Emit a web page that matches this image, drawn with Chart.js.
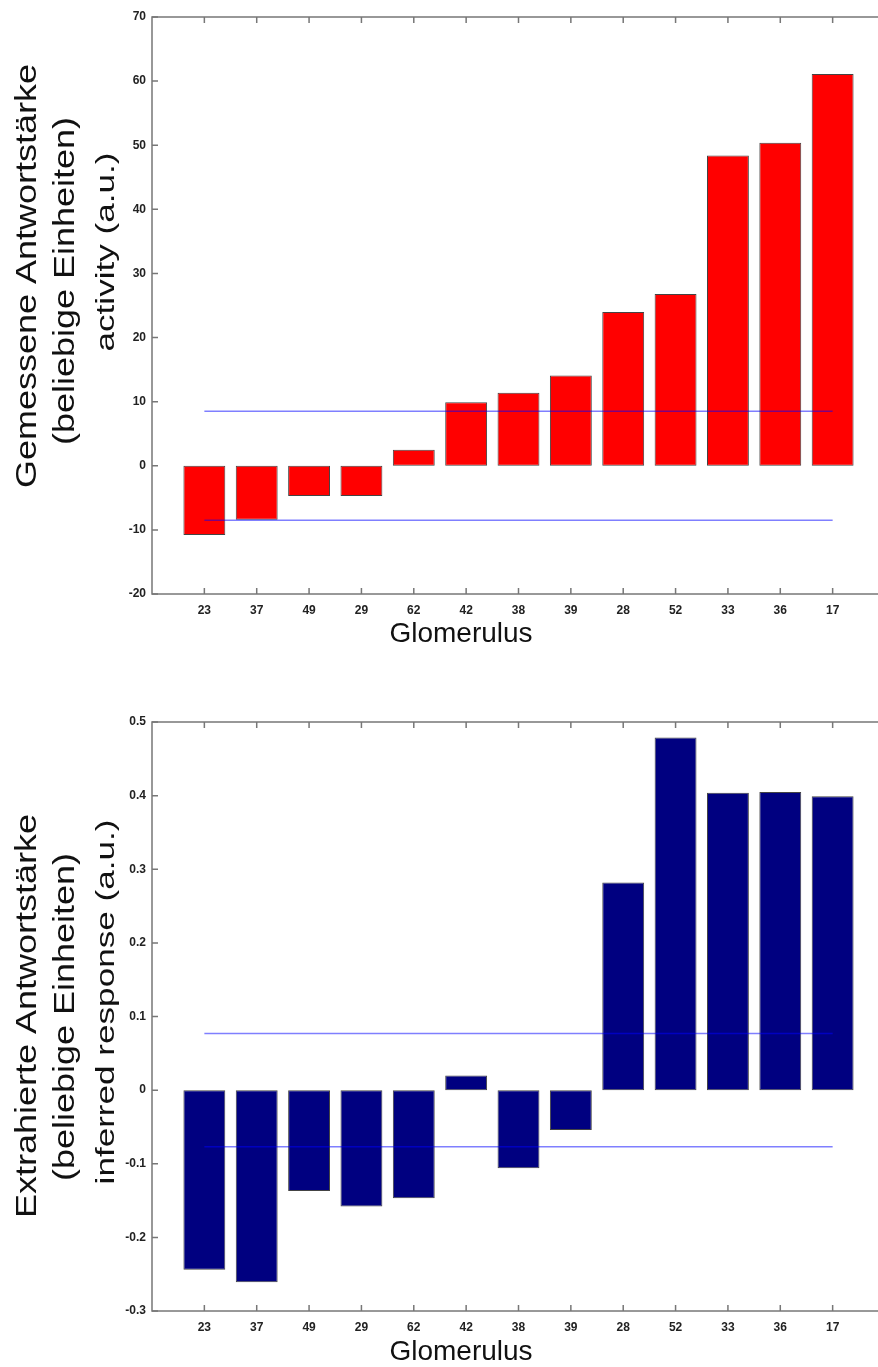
<!DOCTYPE html>
<html>
<head>
<meta charset="utf-8">
<script src="https://cdn.jsdelivr.net/npm/chart.js@4.4.1/dist/chart.umd.min.js"></script>
<style>
  html, body { margin: 0; padding: 0; overflow: hidden; background: #fff; }
  .wrap { position: absolute; left: 0; width: 885px; }
  #topWrap { top: 0; height: 660px; }
  #bottomWrap { top: 660px; height: 707px; }
</style>
</head>
<body>
<div class="wrap" id="topWrap"><canvas id="activityChart"></canvas></div>
<div class="wrap" id="bottomWrap"><canvas id="inferredChart"></canvas></div>
<script>
// glomeruli, sorted by measured activity
const glomeruli = ['23', '37', '49', '29', '62', '42', '38', '39', '28', '52', '33', '36', '17'];

// measured activity (a.u.)
const activity = [-10.8, -8.4, -4.7, -4.7, 2.5, 9.9, 11.4, 14.1, 24.0, 26.8, 48.4, 50.4, 61.1];
const activityBand = [8.5, -8.5];
const activityTicks = [-20, -10, 0, 10, 20, 30, 40, 50, 60, 70];

// inferred response (a.u.)
const inferred = [-0.244, -0.261, -0.137, -0.158, -0.147, 0.020, -0.106, -0.054, 0.282, 0.479, 0.404, 0.405, 0.399];
const inferredBand = [0.077, -0.077];
const inferredTicks = [-0.3, -0.2, -0.1, 0, 0.1, 0.2, 0.3, 0.4, 0.5];

const tickFont = { family: 'Liberation Sans', size: 12, weight: 'bold' };

// box around the plot with inward ticks on all four sides
const framePlugin = {
    id: 'frame',
    afterDraw(chart) {
        const ctx = chart.ctx;
        const a = chart.chartArea;
        const x = chart.scales.x, y = chart.scales.y;
        const len = 6;
        ctx.save();
        ctx.strokeStyle = '#777';
        ctx.lineWidth = 1.5;
        ctx.strokeRect(a.left, a.top, a.right - a.left, a.bottom - a.top);
        ctx.beginPath();
        y.ticks.forEach(t => {
            const py = y.getPixelForValue(t.value);
            ctx.moveTo(a.left, py); ctx.lineTo(a.left + len, py);
            ctx.moveTo(a.right, py); ctx.lineTo(a.right - len, py);
        });
        x.ticks.forEach(t => {
            const px = x.getPixelForValue(t.value);
            ctx.moveTo(px, a.bottom); ctx.lineTo(px, a.bottom - len);
            ctx.moveTo(px, a.top); ctx.lineTo(px, a.top + len);
        });
        ctx.stroke();
        ctx.restore();
    }
};

// rotated y titles and the x title
const titlesPlugin = {
    id: 'titles',
    afterDraw(chart, args, opts) {
        const ctx = chart.ctx;
        ctx.save();
        ctx.fillStyle = '#111';
        ctx.textAlign = 'center';
        ctx.textBaseline = 'middle';
        opts.rotated.forEach(r => {
            ctx.save();
            ctx.translate(r.x, r.y);
            ctx.rotate(-Math.PI / 2);
            ctx.scale(r.stretch, 1);
            ctx.font = r.size + 'px "Liberation Sans"';
            ctx.fillText(r.text, 0, 0);
            ctx.restore();
        });
        ctx.font = '28px "Liberation Sans"';
        ctx.fillText('Glomerulus', opts.xTitle.x, opts.xTitle.y);
        ctx.restore();
    }
};

function makeChart(id, values, band, ticks, color, layout, titles) {
    const bars = values.map((v, i) => ({ x: i + 1, y: v }));
    const bandLine = level => ({
        type: 'line',
        data: [{ x: 1, y: level }, { x: glomeruli.length, y: level }],
        borderColor: 'rgba(0, 0, 255, 0.5)',
        borderWidth: 1.6,
        pointRadius: 0,
        order: 0
    });

    return new Chart(document.getElementById(id), {
        type: 'bar',
        data: {
            datasets: [
                {
                    data: bars,
                    backgroundColor: color,
                    borderColor: '#444',
                    borderWidth: 1,
                    borderSkipped: false,
                    categoryPercentage: 1,
                    barPercentage: 0.8,
                    order: 1
                },
                bandLine(band[0]),
                bandLine(band[1])
            ]
        },
        options: {
            responsive: true,
            maintainAspectRatio: false,
            animation: false,
            layout: { padding: { top: layout.top, left: 0, right: 0, bottom: 0 } },
            plugins: {
                legend: { display: false },
                tooltip: { enabled: false },
                titles: titles
            },
            scales: {
                x: {
                    type: 'linear',
                    min: 0,
                    max: glomeruli.length + 1,
                    offset: false,
                    grid: { display: false, drawTicks: false, offset: false },
                    border: { display: false },
                    afterBuildTicks: s => { s.ticks = glomeruli.map((g, i) => ({ value: i + 1 })); },
                    afterFit: s => { s.height = layout.xHeight; },
                    ticks: {
                        autoSkip: false,
                        maxRotation: 0,
                        padding: 9,
                        color: '#222',
                        font: tickFont,
                        callback: v => glomeruli[v - 1]
                    }
                },
                y: {
                    min: ticks[0],
                    max: ticks[ticks.length - 1],
                    grid: { display: false, drawTicks: false },
                    border: { display: false },
                    afterBuildTicks: s => { s.ticks = ticks.map(v => ({ value: v })); },
                    afterFit: s => { s.width = 152; },
                    ticks: {
                        padding: 6,
                        color: '#222',
                        font: tickFont,
                        callback: v => String(v)
                    }
                }
            }
        },
        plugins: [framePlugin, titlesPlugin]
    });
}

makeChart('activityChart', activity, activityBand, activityTicks, '#ff0000',
    { top: 17, xHeight: 66 },
    {
        rotated: [
            { text: 'Gemessene Antwortstärke', x: 28, y: 276, size: 30, stretch: 1.2 },
            { text: '(beliebige Einheiten)', x: 66, y: 281, size: 30, stretch: 1.2 },
            { text: 'activity (a.u.)', x: 107, y: 252, size: 26, stretch: 1.35 }
        ],
        xTitle: { x: 461, y: 634 }
    });

makeChart('inferredChart', inferred, inferredBand, inferredTicks, '#000080',
    { top: 62, xHeight: 56 },
    {
        rotated: [
            { text: 'Extrahierte Antwortstärke', x: 28, y: 356, size: 30, stretch: 1.2 },
            { text: '(beliebige Einheiten)', x: 66, y: 357, size: 30, stretch: 1.2 },
            { text: 'inferred response (a.u.)', x: 107, y: 342, size: 26, stretch: 1.35 }
        ],
        xTitle: { x: 461, y: 692 }
    });
</script>
</body>
</html>
